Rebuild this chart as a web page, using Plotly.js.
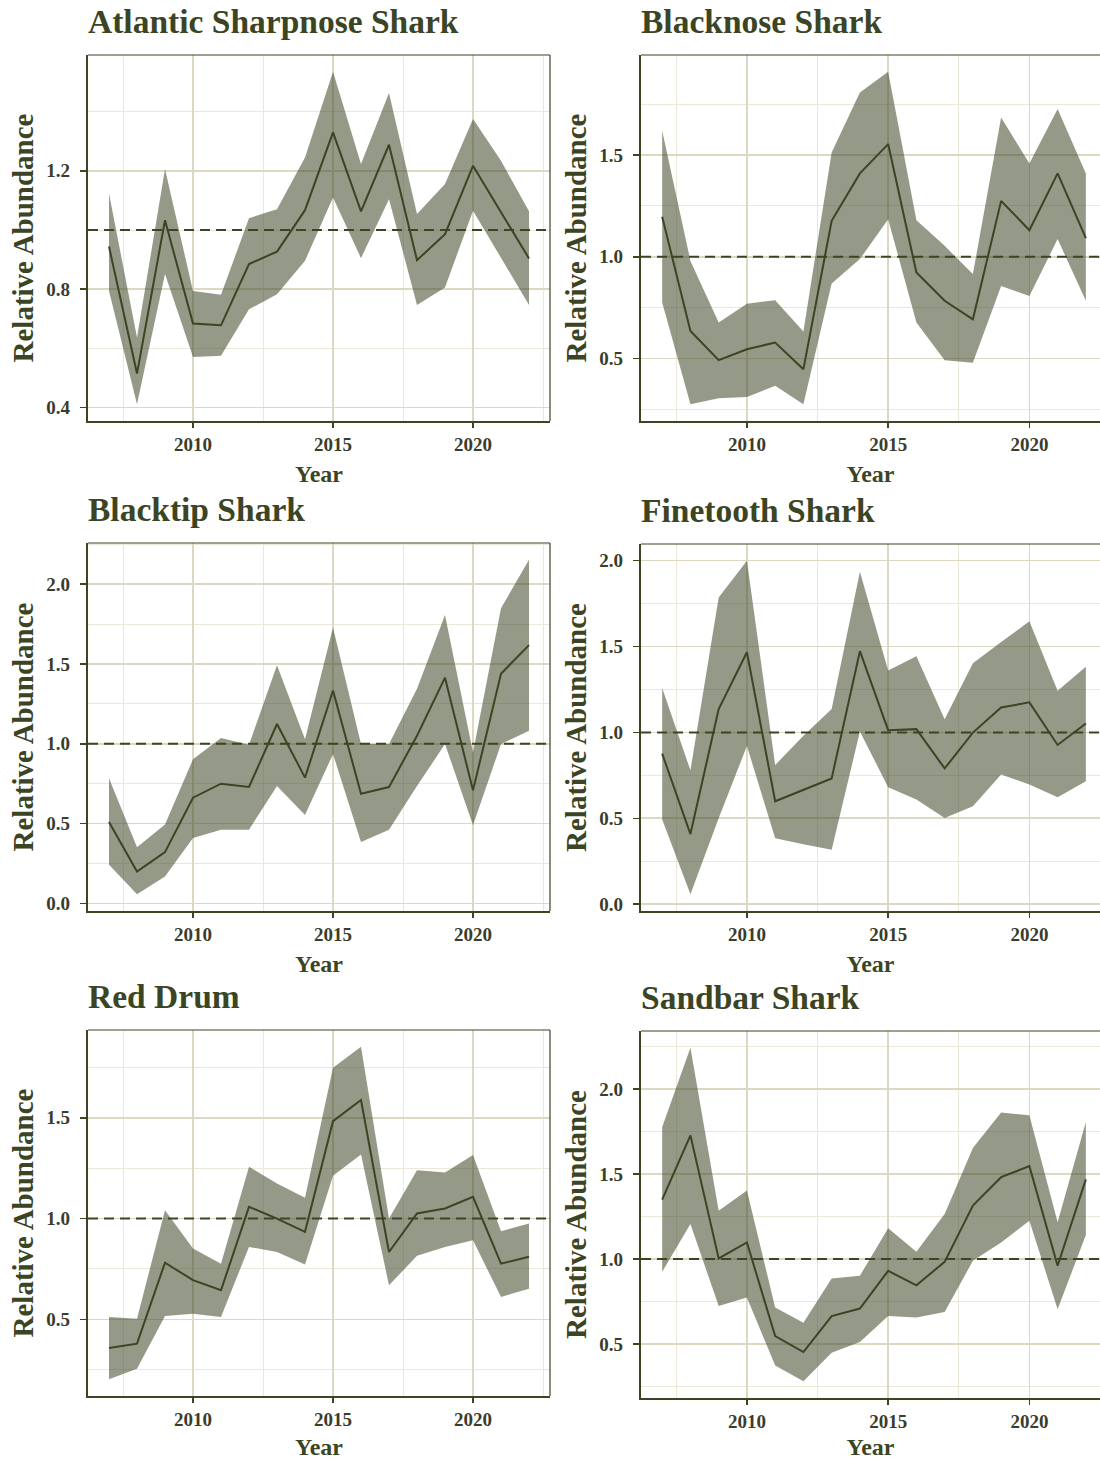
<!DOCTYPE html>
<html>
<head>
<meta charset="utf-8">
<script src="https://cdn.plot.ly/plotly-3.0.1.min.js"></script>
<style>
  html, body { margin: 0; padding: 0; background: #ffffff; }
  #chart { width: 1100px; height: 1460px; }
</style>
</head>
<body>
<div id="chart"></div>
<script>
// ---------------- DATA ----------------
const years = [2007, 2008, 2009, 2010, 2011, 2012, 2013, 2014, 2015, 2016, 2017, 2018, 2019, 2020, 2021, 2022];
const speciesNames = ["Atlantic Sharpnose Shark", "Blacknose Shark", "Blacktip Shark", "Finetooth Shark", "Red Drum", "Sandbar Shark"];

// Atlantic Sharpnose Shark
const sharpnoseMean  = [0.944, 0.515, 1.033, 0.684, 0.678, 0.885, 0.927, 1.067, 1.330, 1.063, 1.288, 0.898, 0.986, 1.217, 1.060, 0.904];
const sharpnoseUpper = [1.123, 0.637, 1.206, 0.794, 0.781, 1.040, 1.070, 1.245, 1.535, 1.223, 1.463, 1.054, 1.155, 1.375, 1.234, 1.063];
const sharpnoseLower = [0.794, 0.411, 0.851, 0.571, 0.575, 0.732, 0.783, 0.896, 1.110, 0.905, 1.104, 0.747, 0.806, 1.065, 0.907, 0.747];

// Blacknose Shark
const blacknoseMean  = [1.197, 0.636, 0.492, 0.546, 0.579, 0.448, 1.177, 1.410, 1.554, 0.923, 0.784, 0.693, 1.275, 1.131, 1.410, 1.092];
const blacknoseUpper = [1.620, 0.980, 0.677, 0.770, 0.787, 0.633, 1.513, 1.808, 1.910, 1.180, 1.054, 0.915, 1.685, 1.459, 1.726, 1.410];
const blacknoseLower = [0.775, 0.275, 0.305, 0.311, 0.366, 0.275, 0.869, 0.989, 1.185, 0.677, 0.492, 0.480, 0.857, 0.808, 1.087, 0.784];

// Blacktip Shark
const blacktipMean  = [0.510, 0.200, 0.321, 0.662, 0.750, 0.729, 1.124, 0.788, 1.334, 0.687, 0.729, 1.050, 1.414, 0.708, 1.439, 1.618];
const blacktipUpper = [0.784, 0.351, 0.494, 0.903, 1.036, 0.994, 1.492, 1.029, 1.729, 0.998, 0.998, 1.345, 1.807, 0.945, 1.849, 2.153];
const blacktipLower = [0.242, 0.057, 0.168, 0.410, 0.462, 0.462, 0.735, 0.553, 0.935, 0.384, 0.462, 0.735, 0.998, 0.490, 0.998, 1.082];

// Finetooth Shark
const finetoothMean  = [0.876, 0.408, 1.136, 1.467, 0.599, 0.667, 0.732, 1.473, 1.013, 1.019, 0.790, 0.999, 1.145, 1.175, 0.927, 1.052];
const finetoothUpper = [1.259, 0.779, 1.785, 2.000, 0.810, 0.980, 1.136, 1.936, 1.360, 1.444, 1.077, 1.403, 1.526, 1.647, 1.243, 1.383];
const finetoothLower = [0.492, 0.057, 0.500, 0.921, 0.384, 0.349, 0.316, 1.005, 0.681, 0.609, 0.501, 0.570, 0.755, 0.697, 0.622, 0.716];

// Red Drum
const redDrumMean  = [0.358, 0.379, 0.781, 0.694, 0.644, 1.058, 1.000, 0.934, 1.483, 1.588, 0.834, 1.025, 1.050, 1.108, 0.776, 0.810];
const redDrumUpper = [0.512, 0.503, 1.041, 0.851, 0.776, 1.257, 1.174, 1.103, 1.748, 1.853, 1.000, 1.240, 1.228, 1.315, 0.937, 0.975];
const redDrumLower = [0.202, 0.255, 0.517, 0.528, 0.512, 0.859, 0.834, 0.772, 1.212, 1.318, 0.669, 0.815, 0.859, 0.892, 0.611, 0.652];

// Sandbar Shark
const sandbarMean  = [1.350, 1.728, 1.004, 1.098, 0.547, 0.453, 0.665, 0.709, 0.931, 0.846, 0.984, 1.315, 1.482, 1.547, 0.961, 1.469];
const sandbarUpper = [1.778, 2.244, 1.285, 1.404, 0.715, 0.626, 0.886, 0.902, 1.181, 1.043, 1.266, 1.654, 1.862, 1.846, 1.217, 1.807];
const sandbarLower = [0.925, 1.207, 0.724, 0.774, 0.374, 0.281, 0.449, 0.512, 0.665, 0.656, 0.689, 0.990, 1.098, 1.226, 0.705, 1.142];

// y tick steps per panel
const yTickSteps = [0.4, 0.5, 0.5, 0.5, 0.5, 0.5];
const xTickVals = [2010, 2015, 2020];
const xMinorVals = [2007.5, 2012.5, 2017.5, 2022.5];
const referenceLevel = 1.0;

// ---------------- STYLE ----------------
const DARK = "#3b4423";
const RIBBON = "rgba(59,68,35,0.54)";
const GRID_MAJOR = "#dcd8c2";
const GRID_MINOR = "#ebe8da";
const TICK_COLOR = "#3a3c2c";
const FONT = "Liberation Serif, DejaVu Serif, serif";
const W = 1100, H = 1460;

const panels = [
  { mean: sharpnoseMean, upper: sharpnoseUpper, lower: sharpnoseLower },
  { mean: blacknoseMean, upper: blacknoseUpper, lower: blacknoseLower },
  { mean: blacktipMean,  upper: blacktipUpper,  lower: blacktipLower },
  { mean: finetoothMean, upper: finetoothUpper, lower: finetoothLower },
  { mean: redDrumMean,   upper: redDrumUpper,   lower: redDrumLower },
  { mean: sandbarMean,   upper: sandbarUpper,   lower: sandbarLower }
];

// pixel boxes of the plot panels (left, right, top, bottom)
const boxes = [
  [88, 550, 55, 421],  [641, 1100, 55, 421],
  [88, 550, 543, 911], [641, 1100, 544, 911],
  [88, 550, 1030, 1396], [641, 1100, 1031, 1398]
];

const traces = [];
const shapes = [];
const annotations = [];
const layout = {
  width: W, height: H,
  margin: { l: 0, r: 0, t: 0, b: 0 },
  paper_bgcolor: "#ffffff",
  plot_bgcolor: "#ffffff",
  showlegend: false,
  font: { family: FONT, color: TICK_COLOR }
};

panels.forEach((p, i) => {
  const n = i + 1;
  const xa = n === 1 ? "x" : "x" + n;
  const ya = n === 1 ? "y" : "y" + n;
  const xKey = n === 1 ? "xaxis" : "xaxis" + n;
  const yKey = n === 1 ? "yaxis" : "yaxis" + n;
  const [l, r, t, b] = boxes[i];
  const rightCol = (i % 2) === 1;

  // ggplot-style 5% expansion of data range
  const lo = Math.min(...p.lower), hi = Math.max(...p.upper);
  const pad = (hi - lo) * 0.05;
  const xMin = years[0], xMax = years[years.length - 1];
  const xPad = (xMax - xMin) * 0.05;
  const xRange = rightCol ? [xMin - xPad, xMax + xPad * 0.667] : [xMin - xPad, xMax + xPad];

  traces.push({
    type: "scatter", mode: "lines", xaxis: xa, yaxis: ya,
    x: years.concat(years.slice().reverse()),
    y: p.upper.concat(p.lower.slice().reverse()),
    fill: "toself", fillcolor: RIBBON,
    line: { width: 0, color: RIBBON }, hoverinfo: "skip"
  });
  traces.push({
    type: "scatter", mode: "lines", xaxis: xa, yaxis: ya,
    x: years, y: p.mean,
    line: { color: DARK, width: 2 }
  });

  const step = yTickSteps[i];
  layout[xKey] = {
    domain: [l / W, r / W], anchor: ya, range: xRange,
    tickmode: "array", tickvals: xTickVals,
    showgrid: true, gridcolor: GRID_MAJOR, gridwidth: 1.6,
    minor: { tickmode: "array", tickvals: xMinorVals, showgrid: true, gridcolor: GRID_MINOR, gridwidth: 1, ticklen: 0 },
    zeroline: false,
    showline: true, linecolor: DARK, linewidth: 2.2,
    ticks: "outside", ticklen: 5, tickwidth: 1.5, tickcolor: DARK,
    ticklabelstandoff: 0,
    tickfont: { family: FONT, size: 19, color: TICK_COLOR, weight: "bold" },
    title: { text: "Year", standoff: 11, font: { family: FONT, size: 24, color: DARK, weight: "bold" } },
    fixedrange: true
  };
  layout[yKey] = {
    domain: [1 - b / H, 1 - t / H], anchor: xa, range: [lo - pad, hi + pad],
    tick0: 0, dtick: step, tickformat: ".1f",
    showgrid: true, gridcolor: GRID_MAJOR, gridwidth: 1.6,
    minor: { tick0: step / 2, dtick: step, showgrid: true, gridcolor: GRID_MINOR, gridwidth: 1, ticklen: 0 },
    zeroline: false,
    showline: true, linecolor: DARK, linewidth: 2.2,
    ticks: "outside", ticklen: 6, tickwidth: 1.5, tickcolor: DARK,
    ticklabelstandoff: 6,
    tickfont: { family: FONT, size: 19, color: TICK_COLOR, weight: "bold" },
    title: { text: "Relative Abundance", standoff: 4, font: { family: FONT, size: 29, color: DARK, weight: "bold" } },
    fixedrange: true
  };

  // dashed reference line
  shapes.push({
    type: "line", xref: xa + " domain", yref: ya,
    x0: 0, x1: 1, y0: referenceLevel, y1: referenceLevel,
    line: { color: DARK, width: 2, dash: "10px,6px" }, layer: "above"
  });
  // panel border (top, and right for left column)
  shapes.push({
    type: "line", xref: xa + " domain", yref: ya + " domain",
    x0: 0, x1: 1, y0: 1, y1: 1,
    line: { color: DARK, width: 1.2 }, layer: "above"
  });
  if (!rightCol) {
    shapes.push({
      type: "line", xref: xa + " domain", yref: ya + " domain",
      x0: 1, x1: 1, y0: 0, y1: 1,
      line: { color: DARK, width: 1.2 }, layer: "above"
    });
  }

  annotations.push({
    text: speciesNames[i], xref: "paper", yref: "paper",
    x: (l - 2) / W, y: 1 - (t - 13) / H, xanchor: "left", yanchor: "bottom",
    showarrow: false, font: { family: FONT, size: 33.5, color: DARK, weight: "bold" }
  });
});

layout.shapes = shapes;
layout.annotations = annotations;

Plotly.newPlot("chart", traces, layout, { staticPlot: true, displayModeBar: false });
</script>
</body>
</html>
